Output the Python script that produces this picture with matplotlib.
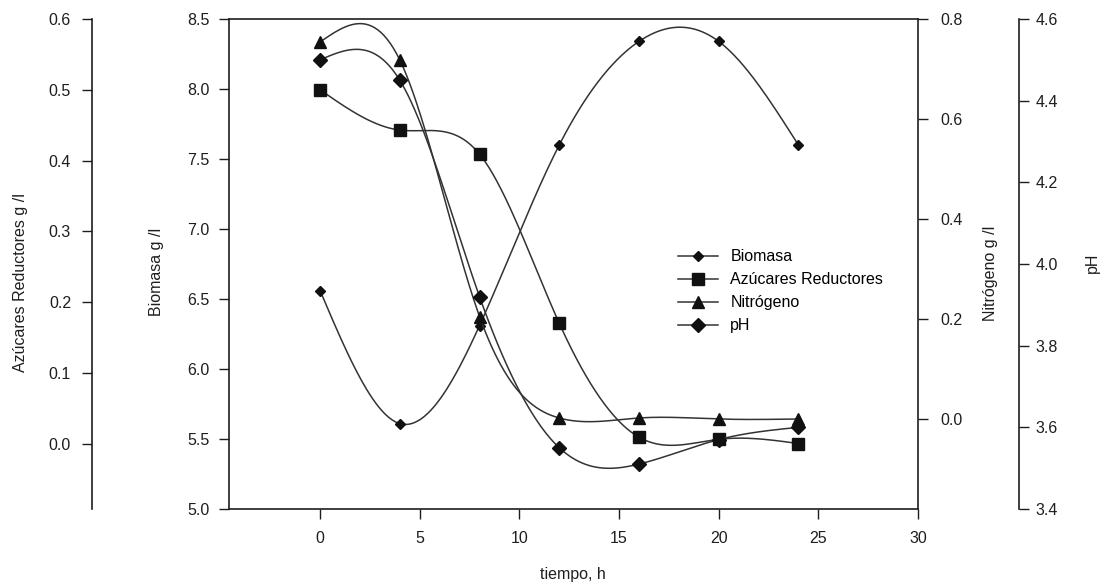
"""
Cinética de fermentación: biomasa, azúcares reductores, nitrógeno y pH
frente al tiempo, cada serie con su propio eje y y curvas spline.
"""
import numpy as np
import matplotlib; matplotlib.use("Agg"); import matplotlib.pyplot as plt

tiempo    = [0, 4, 8, 12, 16, 20, 24]
biomasa   = [6.56, 5.61, 6.31, 7.60, 8.34, 8.34, 7.60]
azucares  = [0.500, 0.443, 0.409, 0.170, 0.009, 0.006, 0.000]
nitrogeno = [0.754, 0.718, 0.205, 0.002, 0.002, 0.000, 0.000]
ph        = [4.50, 4.45, 3.92, 3.55, 3.51, 3.57, 3.60]

x_ticks   = [0, 5, 10, 15, 20, 25, 30]
bio_ticks = [5.0, 5.5, 6.0, 6.5, 7.0, 7.5, 8.0, 8.5]
azu_ticks = [0.0, 0.1, 0.2, 0.3, 0.4, 0.5, 0.6]
nit_ticks = [0.0, 0.2, 0.4, 0.6, 0.8]
ph_ticks  = [3.4, 3.6, 3.8, 4.0, 4.2, 4.4, 4.6]

INK, LINE = "#1e1e1e", "#333333"
FS = 11.5


def natural_spline(x, y, n=300):
    # natural cubic spline through the measured points
    x = np.asarray(x, float); y = np.asarray(y, float)
    h = np.diff(x); k = len(x)
    A = np.zeros((k, k)); r = np.zeros(k)
    A[0, 0] = A[-1, -1] = 1.0
    for i in range(1, k - 1):
        A[i, i-1], A[i, i], A[i, i+1] = h[i-1], 2 * (h[i-1] + h[i]), h[i]
        r[i] = 3 * ((y[i+1] - y[i]) / h[i] - (y[i] - y[i-1]) / h[i-1])
    c = np.linalg.solve(A, r)
    b = (y[1:] - y[:-1]) / h - h * (2 * c[:-1] + c[1:]) / 3
    d = (c[1:] - c[:-1]) / (3 * h)
    xs = np.linspace(x[0], x[-1], n)
    i = np.clip(np.searchsorted(x, xs) - 1, 0, k - 2)
    dx = xs - x[i]
    return xs, y[i] + b[i] * dx + c[i] * dx**2 + d[i] * dx**3


def style_ticks(a, axis, pad):
    a.tick_params(axis=axis, direction="out", length=7, width=1, color=INK,
                  labelsize=FS, labelcolor=INK, pad=pad)


def main():
    plt.rcParams["font.family"] = ["Liberation Sans", "DejaVu Sans"]
    fig = plt.figure(figsize=(11.05, 5.86), dpi=100)
    ax = fig.add_axes([229 / 1105, 1 - 509 / 586, 689 / 1105, 490 / 586])
    ax_azu = ax.twinx(); ax_nit = ax.twinx(); ax_ph = ax.twinx()

    series = [(ax, biomasa, "D", 5, "Biomasa"),
              (ax_azu, azucares, "s", 8, "Azúcares Reductores"),
              (ax_nit, nitrogeno, "^", 8.5, "Nitrógeno"),
              (ax_ph, ph, "D", 7.5, "pH")]
    handles = []
    for a, vals, mk, ms, lab in series:
        xs, ys = natural_spline(tiempo, vals)
        a.plot(xs, ys, color=LINE, lw=1.1)
        a.plot(tiempo, vals, ls="none", marker=mk, ms=ms, color="#111111")
        handles.append(plt.Line2D([], [], color=LINE, lw=1.1, marker=mk,
                                  ms=ms, mfc="#111111", mec="#111111", label=lab))

    ax.set_xlim(-4.57, 30); ax.set_ylim(5.0, 8.5)
    ax_azu.set_ylim(-0.0925, 0.6)
    ax_nit.set_ylim(-0.18, 0.8)
    ax_ph.set_ylim(3.4, 4.6)

    ax.set_xticks(x_ticks); ax.set_yticks(bio_ticks)
    ax.set_yticklabels([f"{v:.1f}" for v in bio_ticks])
    ax_azu.set_yticks(azu_ticks); ax_azu.set_yticklabels([f"{v:.1f}" for v in azu_ticks])
    ax_nit.set_yticks(nit_ticks); ax_nit.set_yticklabels([f"{v:.1f}" for v in nit_ticks])
    ax_ph.set_yticks(ph_ticks); ax_ph.set_yticklabels([f"{v:.1f}" for v in ph_ticks])

    for s in ax.spines.values():
        s.set_color(INK); s.set_linewidth(1.2)
    ax.spines["right"].set_visible(False)

    # sugars axis detached on the far left
    ax_azu.yaxis.set_ticks_position("left")
    ax_azu.spines["left"].set_position(("axes", -0.199))
    for name, s in ax_azu.spines.items():
        s.set_visible(name == "left"); s.set_color(INK); s.set_linewidth(1.2)

    for name, s in ax_nit.spines.items():
        s.set_visible(name == "right"); s.set_color(INK); s.set_linewidth(1.2)

    ax_ph.spines["right"].set_position(("axes", 1.1466))
    for name, s in ax_ph.spines.items():
        s.set_visible(name == "right"); s.set_color(INK); s.set_linewidth(1.2)

    style_ticks(ax, "x", 8.5); style_ticks(ax, "y", 7)
    style_ticks(ax_azu, "y", 8); style_ticks(ax_nit, "y", 9); style_ticks(ax_ph, "y", 5)

    fig.text(21 / 1105, 1 - 372 / 586, "Azúcares Reductores g /l", rotation=90,
             ha="center", va="bottom", fontsize=FS, color=INK)
    fig.text(156 / 1105, 1 - 316 / 586, "Biomasa g /l", rotation=90,
             ha="center", va="bottom", fontsize=FS, color=INK)
    fig.text(990 / 1105, 1 - 321 / 586, "Nitrógeno g /l", rotation=90,
             ha="center", va="bottom", fontsize=FS, color=INK)
    fig.text(1092 / 1105, 1 - 263 / 586, "pH", rotation=90,
             ha="center", va="center", fontsize=FS, color=INK)
    fig.text(573 / 1105, 1 - 575 / 586, "tiempo, h", ha="center", va="center",
             fontsize=FS, color=INK)

    ax_ph.legend(handles=handles, loc="upper left", bbox_to_anchor=(0.643, 0.543),
                 frameon=False, fontsize=FS, handlelength=2.5, handletextpad=0.75,
                 labelspacing=0.5, borderaxespad=0)

    fig.savefig("out.png", dpi=100)
    plt.close(fig)


if __name__ == "__main__":
    main()
